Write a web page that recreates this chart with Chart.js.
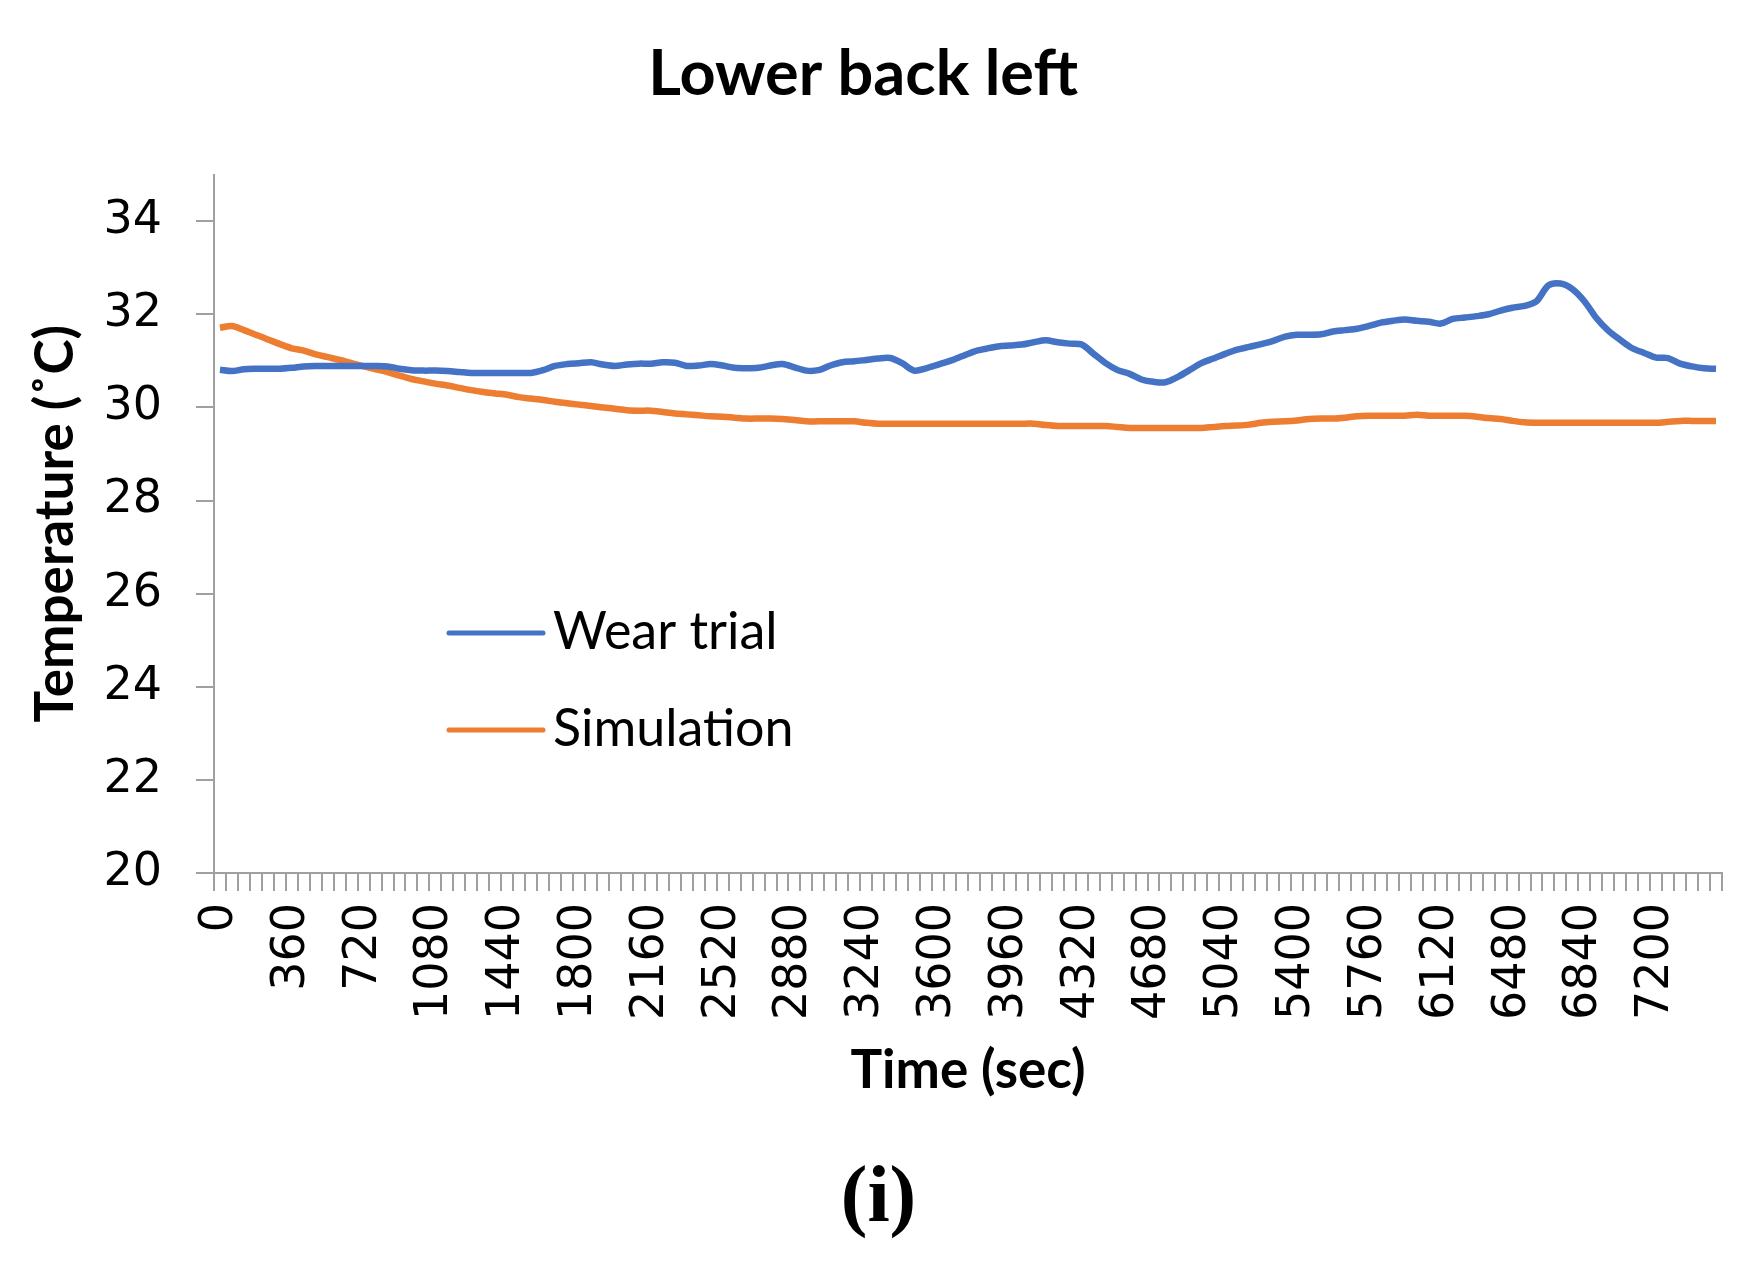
<!DOCTYPE html>
<html>
<head>
<meta charset="utf-8">
<script src="https://cdn.jsdelivr.net/npm/chart.js@4.4.1/dist/chart.umd.min.js"></script>
<style>
  html, body { margin: 0; padding: 0; background: #ffffff; }
  #wrap { width: 1757px; height: 1266px; }
</style>
</head>
<body>
<div id="wrap"><canvas id="c" width="1757" height="1266"></canvas></div>
<script>
// ---- data ----
const categories = Array.from({ length: 126 }, (_, i) => String(i * 60)); // time (sec), 60 s steps, 0..7500
const xTickLabels = ['0','360','720','1080','1440','1800','2160','2520','2880','3240','3600','3960','4320','4680','5040','5400','5760','6120','6480','6840','7200'];
const yTicks = [20, 22, 24, 26, 28, 30, 32, 34];

const wearTrial = [
  30.81,30.78,30.82,30.83,30.83,30.83,30.85,30.88,30.89,30.89,
  30.89,30.89,30.89,30.89,30.88,30.83,30.80,30.79,30.79,30.78,
  30.76,30.74,30.74,30.74,30.74,30.74,30.74,30.80,30.89,30.93,
  30.95,30.97,30.92,30.89,30.92,30.94,30.94,30.97,30.96,30.89,
  30.90,30.93,30.90,30.85,30.84,30.85,30.90,30.93,30.86,30.79,
  30.80,30.90,30.97,30.99,31.02,31.05,31.06,30.95,30.79,30.84,
  30.92,31.00,31.10,31.20,31.26,31.31,31.33,31.35,31.40,31.44,
  31.40,31.37,31.35,31.15,30.95,30.80,30.72,30.60,30.55,30.54,
  30.65,30.80,30.95,31.05,31.15,31.24,31.30,31.36,31.43,31.52,
  31.56,31.56,31.57,31.63,31.66,31.69,31.75,31.82,31.86,31.89,
  31.86,31.84,31.80,31.90,31.93,31.96,32.00,32.08,32.14,32.18,
  32.28,32.62,32.66,32.54,32.28,31.92,31.65,31.45,31.27,31.17,
  31.07,31.06,30.94,30.88,30.84,30.83
];

const simulation = [
  31.71,31.75,31.66,31.56,31.46,31.36,31.27,31.22,31.14,31.08,
  31.02,30.95,30.88,30.82,30.76,30.68,30.61,30.56,30.51,30.47,
  30.42,30.37,30.33,30.30,30.27,30.22,30.19,30.16,30.12,30.09,
  30.06,30.03,30.00,29.97,29.94,29.93,29.93,29.90,29.87,29.85,
  29.83,29.81,29.80,29.78,29.76,29.76,29.76,29.75,29.73,29.70,
  29.70,29.70,29.70,29.70,29.67,29.65,29.65,29.65,29.65,29.65,
  29.65,29.65,29.65,29.65,29.65,29.65,29.65,29.65,29.65,29.62,
  29.60,29.60,29.60,29.60,29.60,29.58,29.56,29.56,29.56,29.56,
  29.56,29.56,29.56,29.58,29.60,29.61,29.63,29.67,29.69,29.70,
  29.72,29.75,29.76,29.76,29.78,29.81,29.82,29.82,29.82,29.82,
  29.84,29.82,29.82,29.82,29.82,29.80,29.77,29.75,29.71,29.68,
  29.67,29.67,29.67,29.67,29.67,29.67,29.67,29.67,29.67,29.67,
  29.67,29.69,29.71,29.71,29.71,29.71
];

const seriesNames = ['Wear trial', 'Simulation'];
const seriesColors = ['#4472C4', '#ED7D31'];

// ---- styling ----
const AXIS_GRAY = '#a0a0a0';
const CAL = 'Lato, "Open Sans", sans-serif';
const VER = '"DejaVu Sans", Verdana, sans-serif';

const insideLegend = {
  id: 'insideLegend',
  afterDraw(chart) {
    const ctx = chart.ctx;
    const ca = chart.chartArea;
    const x0 = ca.left + 235, x1 = ca.left + 329, tx = ca.left + 339;
    const lineYs = [633, 730];
    const textYs = [649, 746];
    ctx.save();
    chart.data.datasets.forEach((ds, i) => {
      ctx.strokeStyle = ds.borderColor;
      ctx.lineWidth = 5;
      ctx.lineCap = 'round';
      ctx.beginPath();
      ctx.moveTo(x0, lineYs[i]);
      ctx.lineTo(x1, lineYs[i]);
      ctx.stroke();
      ctx.fillStyle = '#000000';
      ctx.font = '52px ' + CAL;
      ctx.textAlign = 'left';
      ctx.textBaseline = 'alphabetic';
      ctx.fillText(ds.label, tx, textYs[i]);
    });
    ctx.restore();
  }
};

new Chart(document.getElementById('c'), {
  type: 'line',
  data: {
    labels: categories,
    datasets: [
      { label: seriesNames[0], data: wearTrial, borderColor: seriesColors[0], backgroundColor: seriesColors[0],
        borderWidth: 6.5, pointRadius: 0, tension: 0.3, fill: false },
      { label: seriesNames[1], data: simulation, borderColor: seriesColors[1], backgroundColor: seriesColors[1],
        borderWidth: 6.5, pointRadius: 0, tension: 0.3, fill: false }
    ]
  },
  options: {
    responsive: false,
    animation: false,
    devicePixelRatio: 1,
    layout: { padding: { left: 0, right: 0, top: 0, bottom: 0 } },
    plugins: {
      legend: { display: false },
      tooltip: { enabled: false },
      title: {
        display: true,
        text: 'Lower back left  ',
        color: '#000000',
        font: { family: CAL, size: 63, weight: 'bold', lineHeight: 1.2 },
        padding: { top: 37, bottom: 62 }
      },
      subtitle: {
        display: true,
        position: 'bottom',
        text: '(i)',
        color: '#000000',
        font: { family: '"Liberation Serif", "Times New Roman", serif', size: 80, weight: 'bold', lineHeight: 1.2 },
        padding: { top: 0, bottom: 18 }
      }
    },
    scales: {
      x: {
        type: 'category',
        offset: true,
        grid: { display: true, offset: true, drawOnChartArea: false, drawTicks: true, tickLength: 18, color: AXIS_GRAY, lineWidth: 2 },
        border: { display: true, color: AXIS_GRAY, width: 2 },
        ticks: {
          autoSkip: false,
          minRotation: 90,
          maxRotation: 90,
          padding: 12,
          color: '#000000',
          font: { family: VER, size: 46 },
          callback: function (v, i) {
            const lab = categories[i];
            return xTickLabels.includes(lab) ? lab : '';
          }
        },
        title: {
          display: true,
          text: 'Time (sec)',
          color: '#000000',
          font: { family: CAL, size: 53, weight: 'bold', lineHeight: 1.2 },
          padding: { top: 0, bottom: 49 }
        },
        afterFit(scale) { scale.height = 279; scale.paddingRight = 35; }
      },
      y: {
        type: 'linear',
        min: 20,
        max: 35,
        grid: { display: true, drawOnChartArea: false, drawTicks: true, tickLength: 18, color: AXIS_GRAY, lineWidth: 2 },
        border: { display: true, color: AXIS_GRAY, width: 2 },
        afterBuildTicks(scale) { scale.ticks = yTicks.map(v => ({ value: v })); },
        ticks: {
          padding: 34,
          color: '#000000',
          font: { family: VER, size: 46 },
          callback: (v) => String(v)
        },
        title: {
          display: true,
          text: 'Temperature (˚C)',
          color: '#000000',
          font: { family: CAL, size: 53, weight: 'bold', lineHeight: 1.2 },
          padding: { top: 24, bottom: 0 }
        },
        afterFit(scale) { scale.width = 214; }
      }
    }
  },
  plugins: [insideLegend]
});
</script>
</body>
</html>
